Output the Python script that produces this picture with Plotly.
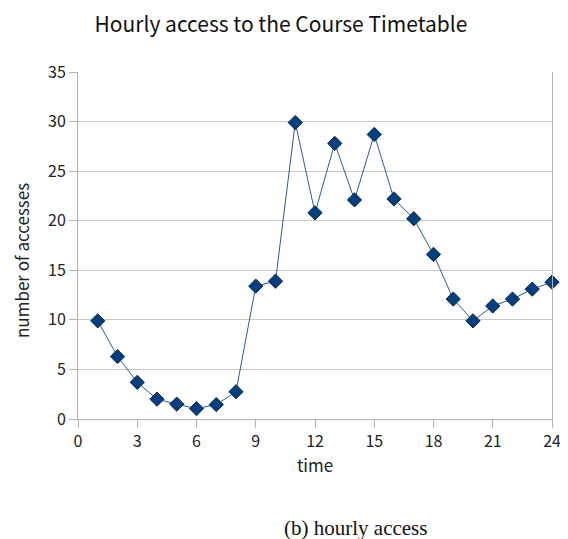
import plotly.graph_objects as go

hours = list(range(1, 25))
accesses = [9.9, 6.3, 3.7, 2.0, 1.5, 1.05, 1.45, 2.75, 13.4, 13.9, 29.9, 20.8,
            27.8, 22.1, 28.7, 22.2, 20.2, 16.6, 12.1, 9.9, 11.4, 12.1, 13.1, 13.8]
x_ticks = list(range(0, 25, 3))
y_ticks = list(range(0, 36, 5))

W, H = 560, 531  # page body has an 8px margin
L, R, T, B = 70, 16, 64, 120
pw, ph = W - L - R, H - T - B

fig = go.Figure()
fig.add_trace(go.Scatter(
    x=hours, y=accesses, mode="lines+markers",
    line=dict(color="#2c5a94", width=1),
    marker=dict(symbol="diamond", size=11, color="#004080",
                line=dict(color="#1a2a40", width=1)),
    showlegend=False, cliponaxis=False,
))

fig.update_layout(
    width=W, height=H,
    margin=dict(l=L, r=R, t=T, b=B, autoexpand=False),
    paper_bgcolor="white", plot_bgcolor="white",
    title=dict(text="Hourly access to the Course Timetable", x=(281 - 8) / W,
               xanchor="center", y=1 - 16.5 / H, yanchor="middle",
               font=dict(family="Noto Sans CJK JP", size=21, color="#111")),
    font=dict(family="Noto Sans CJK JP", size=16, color="#222"),
)
fig.update_xaxes(
    range=[0, 24], tickvals=x_ticks, showgrid=False, automargin=False,
    showline=True, linecolor="#b3b3b3", linewidth=1,
    ticks="outside", ticklen=8, tickcolor="#b3b3b3",
    title=dict(text="time", standoff=4, font=dict(size=17)),
)
fig.update_yaxes(
    range=[0, 35], tickvals=y_ticks, showgrid=True, gridcolor="#c8c8c8",
    showline=True, linecolor="#b3b3b3", linewidth=1, mirror=True, automargin=False,
    ticks="outside", ticklen=8, tickcolor="#b3b3b3", zeroline=False,
)
fig.add_annotation(
    text="number of accesses", xref="paper", yref="paper", textangle=-90,
    x=(13 - L) / pw, y=1 - (253 - T) / ph,
    xanchor="center", yanchor="middle", showarrow=False,
    font=dict(family="Noto Sans CJK JP", size=17, color="#222"),
)
fig.add_annotation(
    text="(b) hourly access", xref="paper", yref="paper",
    x=(347 - L) / pw, y=-(520 - (H - B)) / ph,
    xanchor="center", yanchor="middle", showarrow=False,
    font=dict(family="Liberation Serif", size=21, color="#111"),
)

fig.write_html("out.html")
